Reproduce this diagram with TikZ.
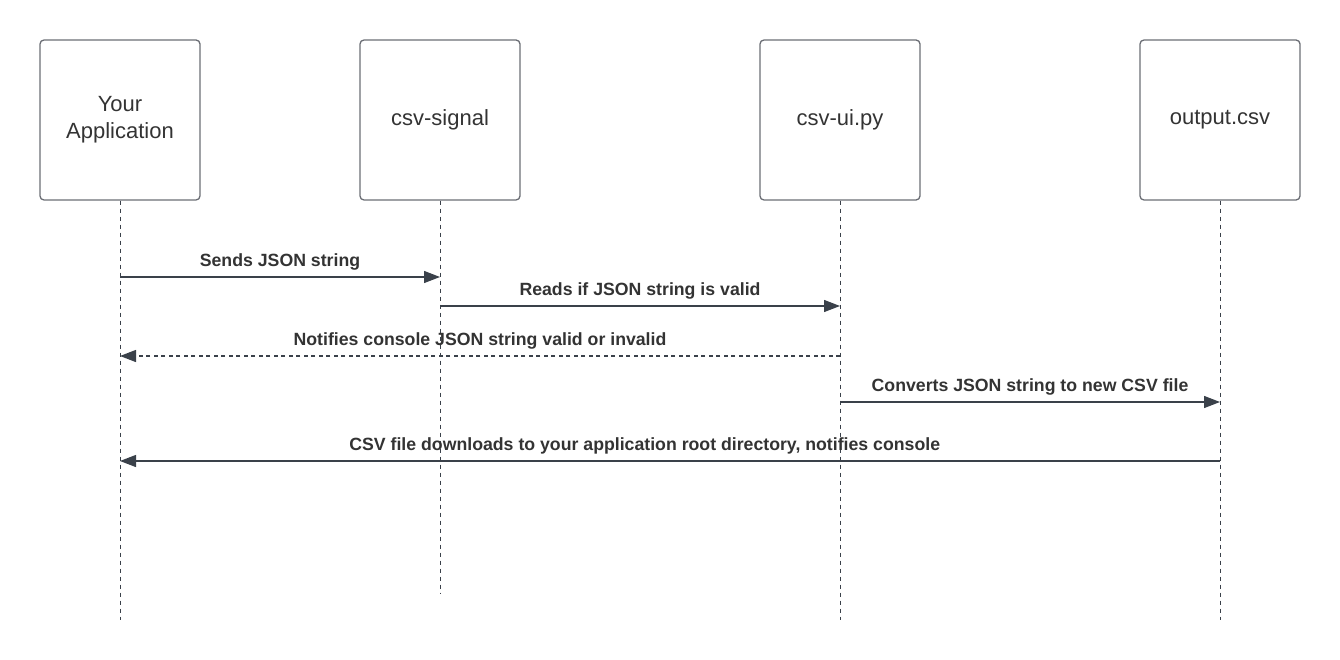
\documentclass[tikz,border=0pt]{standalone}
\usepackage{fontspec}
\setmainfont{Liberation Sans}
\usetikzlibrary{arrows.meta}
\definecolor{linegray}{HTML}{3A414A}
\definecolor{boxgray}{HTML}{6B6E75}
\definecolor{textgray}{HTML}{333333}
\tikzset{
    actor/.style={
        draw=boxgray, line width=1.3pt, rounded corners=4pt,
        minimum width=160pt, minimum height=160pt, align=center,
        text=textgray, font=\fontsize{22}{26.7}\selectfont
    },
    lifeline/.style={draw=linegray, line width=1pt, dash pattern=on 4pt off 4pt},
    msg/.style={draw=linegray, line width=1.3pt, -{Triangle[length=16pt,width=12pt]}},
    reply/.style={msg, dash pattern=on 4pt off 3.5pt},
    msglabel/.style={anchor=base, yshift=10.5pt, text=textgray,
        font=\fontsize{17.7}{21}\selectfont\bfseries},
}

\begin{document}
\begin{tikzpicture}[x=1pt, y=-1pt]
\useasboundingbox (0,0) rectangle (1340,660);
\node[actor] (app) at (120,120) {Your\\Application};
\node[actor] (sig) at (440,120) {csv-signal};
\node[actor] (ui)  at (840,120) {csv-ui.py};
\node[actor] (out) at (1220,120) {output.csv};

\draw[lifeline] (app.south) -- (app |- 0,620);
\draw[lifeline] (sig.south) -- (sig |- 0,593);
\draw[lifeline] (ui.south) -- (ui |- 0,620);
\draw[lifeline] (out.south) -- (out |- 0,620);

\draw[msg] (app |- 0,277) -- (sig |- 0,277) node[msglabel, midway] {Sends JSON string};
\draw[msg] (sig |- 0,306) -- (ui |- 0,306) node[msglabel, midway] {Reads if JSON string is valid};
\draw[reply] (ui |- 0,356) -- (app |- 0,356) node[msglabel, midway] {Notifies console JSON string valid or invalid};
\draw[msg] (ui |- 0,402) -- (out |- 0,402) node[msglabel, midway] {Converts JSON string to new CSV file};
\draw[msg] (out |- 0,461) -- (app |- 0,461) node[msglabel, pos=0.523] {CSV file downloads to your application root directory, notifies console};
\end{tikzpicture}
\end{document}
